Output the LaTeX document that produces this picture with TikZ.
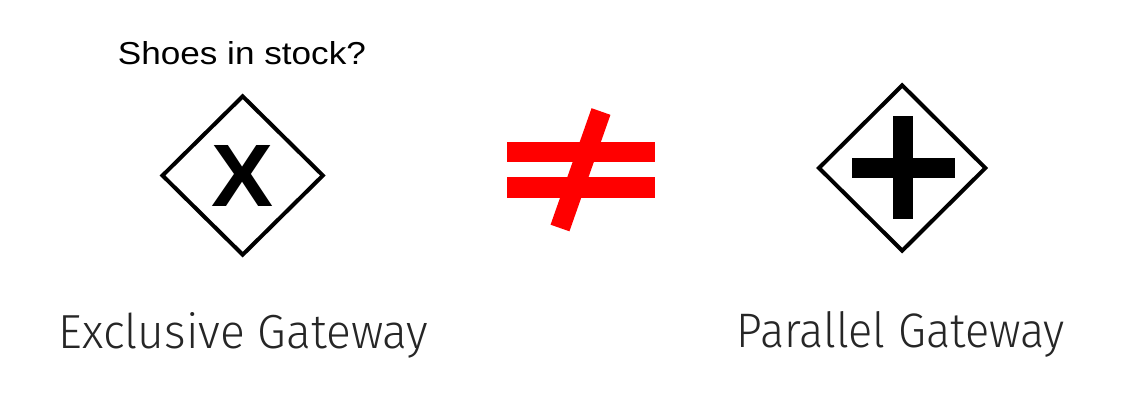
\documentclass[tikz,border=0pt]{standalone}
\usepackage{fontspec}
\setmainfont{Liberation Sans}
\newfontfamily\lightfont{Fira Sans Light}
\usetikzlibrary{shapes.geometric}
\tikzset{
  gateway/.style={shape=diamond, draw=black, line width=4pt, inner sep=0pt, fill=white},
  neqred/.style={fill=red, draw=none},
  plusbar/.style={fill=black, draw=none},
  label/.style={anchor=base west, inner sep=0pt, text=black!85}
}
\begin{document}
\begin{tikzpicture}[x=1pt,y=-1pt]
\useasboundingbox[fill=white] (0,0) rectangle (1131,405);
% question
\node[anchor=base west, inner sep=0pt] (q) at (117.7,64.3) {\resizebox{248pt}{23pt}{Shoes in stock?}};
% exclusive gateway
\node[gateway, minimum width=162pt, minimum height=160pt] (xg) at (242.7,175.5) {};
\node[inner sep=0pt] (xm) at (xg.center) {\resizebox{62pt}{61pt}{\bfseries X}};
% not equal sign
\fill[neqred] (506.7,142.3) rectangle (655,162.3);
\fill[neqred] (506.7,177.3) rectangle (655,198.3);
\draw[red, line width=20pt] (601,111.5) -- (560,228);
% parallel gateway
\node[gateway, minimum width=168pt, minimum height=167pt] (pg) at (902.2,168) {};
\fill[plusbar] (893.3,116) rectangle (913.3,219.3);
\fill[plusbar] (851.7,157.7) rectangle (955,177.7);
% labels
\node[label] (xl) at (58.3,348.3) {\resizebox{370pt}{36pt}{\lightfont Exclusive Gateway}};
\node[label] (pl) at (736.7,347.7) {\resizebox{328pt}{36pt}{\lightfont Parallel Gateway}};
\end{tikzpicture}
\end{document}
